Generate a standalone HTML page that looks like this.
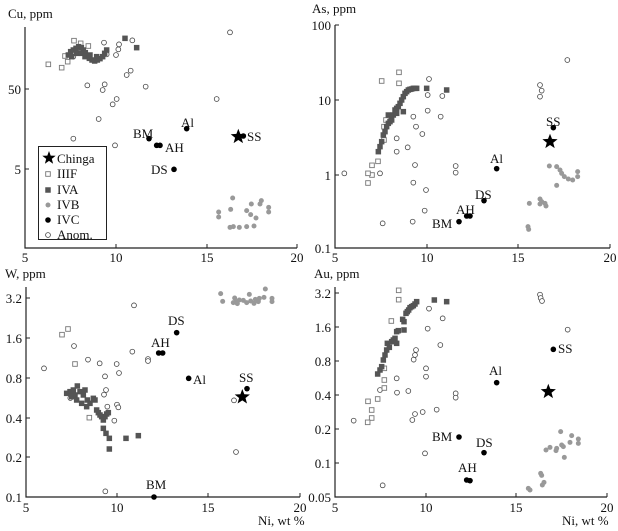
<!DOCTYPE html>
<html><head><meta charset="utf-8">
<style>
html,body{margin:0;padding:0;background:#fff;}
svg{display:block;font-family:"Liberation Serif",serif;}
text{font-size:13px;fill:#111;}
</style></head>
<body>
<svg id="s" width="618" height="531" viewBox="0 0 618 531" xmlns="http://www.w3.org/2000/svg">
<g stroke="#222" stroke-width="1.2" fill="none">
<path d="M25,27 V248 H297"/>
<path d="M335,25 V248 H610"/>
<path d="M26,287 V497 H300"/>
<path d="M335,287 V497 H607"/>
</g>
<g stroke="#222" stroke-width="1">
<path d="M25,89h4M25,169h4M116,248v-4M207,248v-4M297,248v-4"/>
<path d="M335,25h4M335,100h4M335,175h4M335,248h4M427,248v-4M518,248v-4M610,248v-4"/>
<path d="M26,298h4M26,338h4M26,378h4M26,418h4M26,457h4M26,497h4M117,497v-4M208,497v-4M300,497v-4"/>
<path d="M335,293h4M335,327h4M335,361h4M335,395h4M335,429h4M335,463h4M335,497h4M426,497v-4M516,497v-4M607,497v-4"/>
</g>
<g id="dots"></g>
<text x="8" y="18">Cu, ppm</text>
<text x="312" y="13">As, ppm</text>
<text x="5" y="278">W, ppm</text>
<text x="314" y="278">Au, ppm</text>
<text x="258" y="525">Ni, wt %</text>
<text x="562" y="525">Ni, wt %</text>
<g text-anchor="middle">
<text x="25" y="262">5</text><text x="116" y="262">10</text><text x="207" y="262">15</text><text x="297" y="262">20</text>
<text x="335" y="262">5</text><text x="427" y="262">10</text><text x="518" y="262">15</text><text x="610" y="262">20</text>
<text x="26" y="512">5</text><text x="117" y="512">10</text><text x="208" y="512">15</text><text x="300" y="512">20</text>
<text x="335" y="512">5</text><text x="426" y="512">10</text><text x="516" y="512">15</text><text x="607" y="512">20</text>
</g>
<g text-anchor="end">
<text x="21" y="94">50</text><text x="21" y="174">5</text>
<text x="331" y="30">100</text><text x="331" y="105">10</text><text x="331" y="180">1</text><text x="331" y="253">0.1</text>
<text x="22" y="303">3.2</text><text x="22" y="343">1.6</text><text x="22" y="383">0.8</text><text x="22" y="423">0.4</text><text x="22" y="462">0.2</text><text x="22" y="502">0.1</text>
<text x="331" y="298">3.2</text><text x="331" y="332">1.6</text><text x="331" y="366">0.8</text><text x="331" y="400">0.4</text><text x="331" y="434">0.2</text><text x="331" y="468">0.1</text><text x="331" y="502">0.05</text>
</g>
<text x="133" y="138">BM</text><text x="181" y="127">Al</text><text x="165" y="152">AH</text><text x="151" y="174">DS</text><text x="247" y="141">SS</text>
<text x="546" y="126">SS</text><text x="490" y="163">Al</text><text x="475" y="199">DS</text><text x="456" y="214">AH</text><text x="432" y="228">BM</text>
<text x="168" y="325">DS</text><text x="151" y="347">AH</text><text x="193" y="384">Al</text><text x="239" y="382">SS</text><text x="146" y="489">BM</text>
<text x="489" y="375">Al</text><text x="558" y="353">SS</text><text x="432" y="441">BM</text><text x="476" y="447">DS</text><text x="458" y="472">AH</text>
<rect x="38.5" y="146.5" width="68" height="93" fill="#fff" stroke="#222" stroke-width="1"/>
<text x="57" y="163">Chinga</text>
<text x="57" y="178">IIIF</text>
<text x="57" y="194">IVA</text>
<text x="57" y="209">IVB</text>
<text x="57" y="224">IVC</text>
<text x="57" y="239">Anom.</text>
<g id="leg"></g>
</svg>
<script>
var NS="http://www.w3.org/2000/svg",g=document.getElementById("dots");
function el(t,a){var e=document.createElementNS(NS,t);for(var k in a)e.setAttribute(k,a[k]);g.appendChild(e);}
function sq(x,y,f){el("rect",{x:x-2.3,y:y-2.3,width:4.6,height:4.6,fill:f?"#555":"#fff",stroke:f?"#555":"#777","stroke-width":0.9});}
function oc(x,y){el("circle",{cx:x,cy:y,r:2.4,fill:"#fff",stroke:"#444","stroke-width":0.8});}
function gc(x,y){el("circle",{cx:x,cy:y,r:2.5,fill:"#999"});}
function bc(x,y){el("circle",{cx:x,cy:y,r:2.8,fill:"#000"});}
function star(x,y,r){var p=[];for(var i=0;i<10;i++){var a=-Math.PI/2+i*Math.PI/5,rr=i%2?r*0.42:r;p.push((x+rr*Math.cos(a)).toFixed(1)+","+(y+rr*Math.sin(a)).toFixed(1));}el("polygon",{points:p.join(" "),fill:"#000"});}
function P(ox,oy,d){
 (d.an||[]).forEach(function(p){oc(ox+p[0]/3,oy+p[1]/3)});
 (d.f||[]).forEach(function(p){sq(ox+p[0]/3,oy+p[1]/3,0)});
 (d.a||[]).forEach(function(p){sq(ox+p[0]/3,oy+p[1]/3,1)});
 (d.b||[]).forEach(function(p){gc(ox+p[0]/3,oy+p[1]/3)});
 (d.c||[]).forEach(function(p){bc(ox+p[0]/3,oy+p[1]/3)});
 star(ox+d.s[0]/3,oy+d.s[1]/3,8);
}
P(0,0,{
f:[[145,193],[185,203],[203,185],[222,122],[242,130],[265,138],[195,168]],
a:[[205,165],[212,155],[220,150],[228,145],[236,140],[244,143],[250,150],[256,158],[262,168],[268,175],[276,180],[284,183],[292,180],[300,176],[308,170],[314,160],[320,150],[230,160],[245,160],[255,170],[270,165],[290,170],[215,170],[375,115],[410,143]],
an:[[690,97],[220,170],[312,128],[357,133],[397,121],[348,165],[355,148],[320,163],[392,212],[380,225],[262,256],[314,253],[308,270],[437,260],[350,297],[338,313],[296,357],[220,416],[345,436],[650,297]],
b:[[698,594],[656,636],[656,651],[692,628],[754,612],[784,602],[780,612],[806,622],[806,636],[740,632],[752,644],[768,654],[690,682],[700,680],[718,682],[740,680],[762,678]],
c:[[447,416],[470,436],[480,436],[560,386],[522,508],[730,408]],
s:[715,410]});
P(300,0,{
f:[[297,217],[297,250],[245,243],[258,360],[252,380],[252,420],[234,484],[216,496],[216,525],[204,520],[204,549]],
a:[[235,455],[240,440],[245,425],[250,405],[255,395],[260,380],[265,370],[270,365],[275,360],[280,345],[285,330],[290,325],[295,320],[300,310],[305,300],[310,290],[315,280],[320,275],[325,270],[330,268],[335,267],[340,265],[345,265],[350,265],[380,265],[440,270],[310,335],[290,340],[265,345]],
an:[[133,520],[240,520],[248,670],[290,415],[290,455],[323,442],[340,350],[348,380],[345,495],[340,548],[367,402],[378,570],[374,632],[338,665],[383,332],[387,237],[383,285],[427,288],[422,350],[467,498],[467,518],[720,255],[725,272],[720,290],[802,180]],
b:[[748,498],[770,500],[780,510],[785,520],[793,530],[805,537],[818,540],[833,515],[833,530],[770,556],[688,610],[720,597],[725,605],[735,610],[738,618],[720,612],[684,680],[686,688]],
c:[[477,665],[500,648],[510,648],[552,602],[590,506],[760,383]],
s:[750,425]});
P(0,260,{
f:[[186,224],[204,207],[225,312],[268,473]],
a:[[200,400],[210,395],[220,390],[232,378],[240,395],[250,405],[255,390],[262,420],[270,430],[280,415],[285,420],[290,450],[295,458],[300,465],[305,470],[310,480],[315,470],[320,462],[325,458],[245,430],[260,440],[225,405],[215,410],[230,420],[310,505],[318,520],[328,535],[328,567],[378,535],[415,527]],
an:[[132,325],[222,258],[264,299],[299,310],[315,349],[318,390],[312,404],[322,440],[211,414],[350,312],[357,339],[351,434],[355,442],[343,482],[402,136],[397,275],[444,297],[444,303],[316,694],[702,421],[708,576]],
b:[[662,101],[668,124],[704,114],[708,125],[712,131],[718,120],[730,121],[748,103],[752,123],[762,130],[766,118],[775,125],[778,115],[792,112],[796,87],[816,115],[816,125],[700,128],[740,128]],
c:[[530,218],[476,279],[488,279],[566,355],[741,386],[462,711]],
s:[727,411]});
P(300,260,{
f:[[296,91],[296,119],[274,183],[253,325],[253,360],[253,384],[233,417],[204,424],[215,450],[215,474],[203,487]],
a:[[233,342],[240,330],[245,320],[250,300],[255,285],[260,270],[262,250],[268,262],[275,245],[280,240],[285,235],[290,215],[295,212],[308,178],[312,185],[318,160],[322,155],[326,150],[330,143],[335,140],[340,137],[345,132],[350,125],[403,120],[440,125],[312,210],[290,250]],
an:[[161,482],[248,676],[240,390],[290,355],[291,398],[325,393],[337,480],[345,462],[341,299],[345,285],[348,270],[368,456],[378,325],[378,350],[375,580],[410,449],[383,206],[387,146],[428,175],[421,255],[467,400],[467,413],[720,104],[722,114],[726,123],[803,209]],
b:[[782,515],[815,527],[835,537],[835,550],[810,547],[790,560],[785,555],[770,565],[768,572],[750,562],[738,570],[793,592],[722,640],[725,646],[732,667],[727,675],[685,685],[690,690]],
c:[[477,531],[552,578],[500,660],[510,662],[590,368],[760,268]],
s:[745,395]});
g=document.getElementById("leg");
star(49,158,7);sq(48,174,0);sq(48,190,1);gc(48,205);bc(48,220);oc(48,235);
</script>
</body></html>
